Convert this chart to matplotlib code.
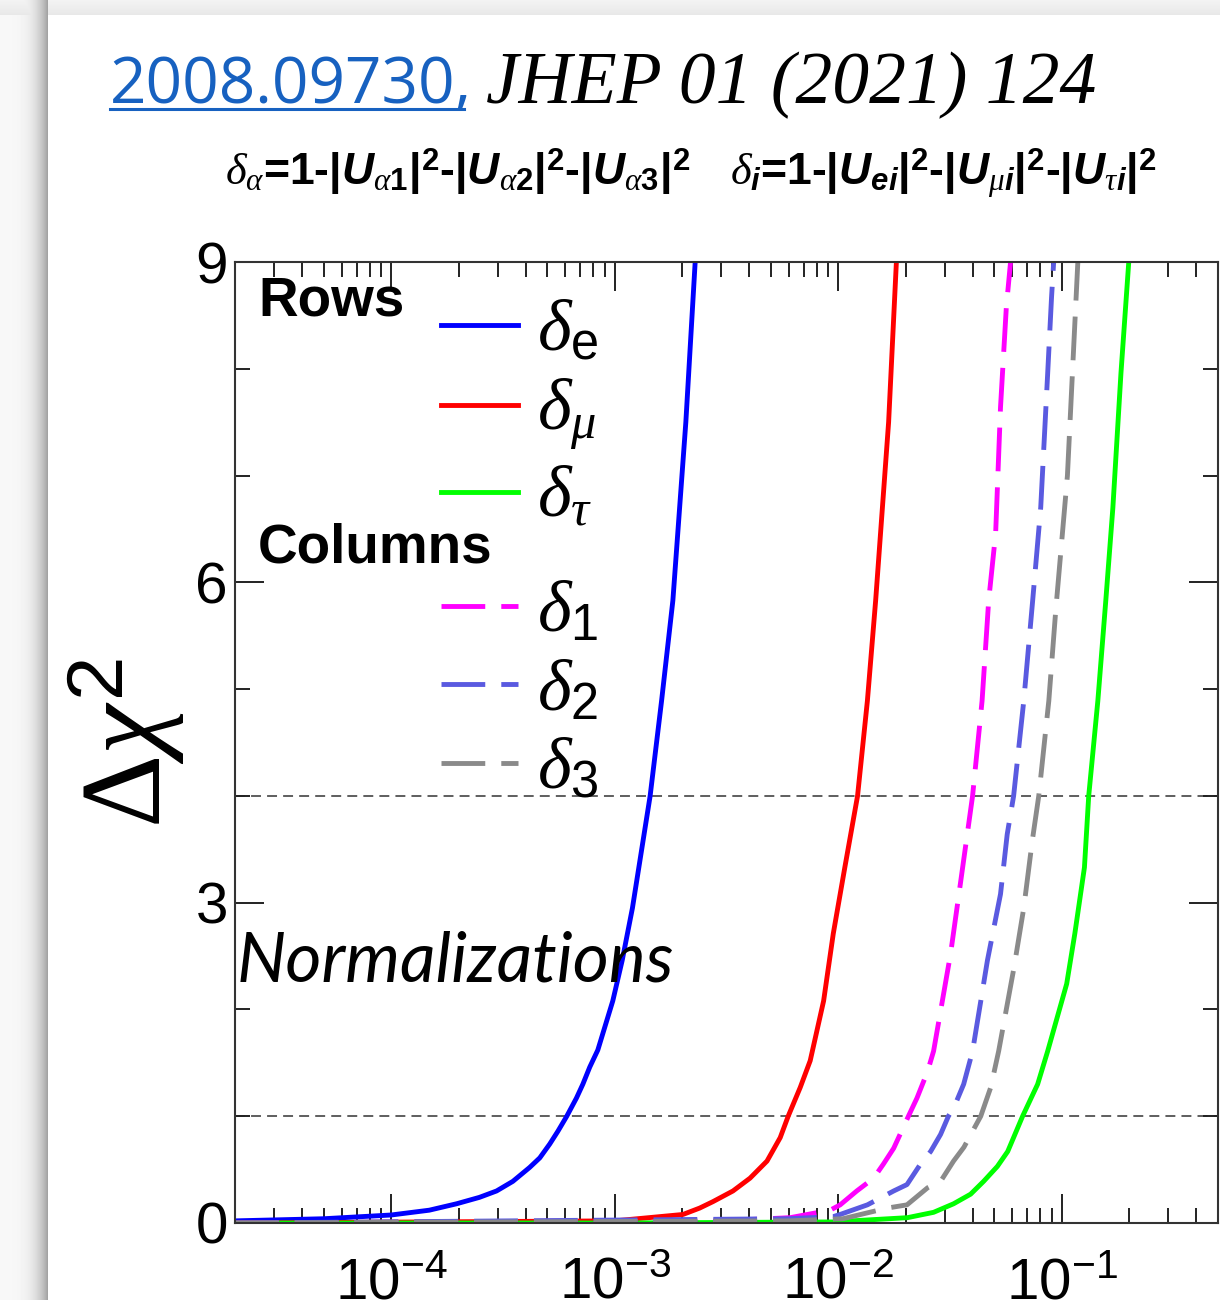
import numpy as np
import matplotlib.pyplot as plt
from matplotlib.ticker import LogLocator, NullFormatter
from matplotlib.lines import Line2D

plt.rcParams['font.family'] = ['Liberation Sans', 'DejaVu Sans']
plt.rcParams['mathtext.fontset'] = 'custom'
plt.rcParams['mathtext.rm'] = 'Liberation Sans'
plt.rcParams['mathtext.it'] = 'Liberation Serif:italic'
plt.rcParams['mathtext.bf'] = 'Liberation Sans:bold'
plt.rcParams['mathtext.sf'] = 'Liberation Sans:bold:italic'

# delta (x) and delta chi^2 (y)
# rows
de_x = [2.0e-5, 5.0e-5, 1.0e-4, 1.48e-4, 1.96e-4, 2.48e-4, 2.96e-4, 3.50e-4, 4.16e-4,
        4.62e-4, 5.12e-4, 5.57e-4, 6.1e-4, 6.74e-4, 7.2e-4, 7.73e-4, 8.4e-4, 9.8e-4,
        1.08e-3, 1.20e-3, 1.44e-3, 1.62e-3, 1.82e-3, 2.08e-3, 2.29e-3]
de_y = [0.02, 0.04, 0.075, 0.12, 0.18, 0.24, 0.30, 0.39, 0.52,
        0.61, 0.74, 0.86, 1.0, 1.17, 1.30, 1.46, 1.62, 2.08,
        2.46, 2.95, 4.0, 4.89, 5.83, 7.5, 9.0]

dmu_x = [2.0e-5, 1.0e-3, 2.02e-3, 2.40e-3, 2.75e-3, 3.38e-3, 4.03e-3, 4.8e-3, 5.50e-3,
         5.97e-3, 6.76e-3, 7.49e-3, 8.6e-3, 9.5e-3, 1.07e-2, 1.22e-2, 1.35e-2, 1.47e-2,
         1.68e-2, 1.82e-2]
dmu_y = [0.0, 0.02, 0.08, 0.14, 0.20, 0.30, 0.42, 0.58, 0.80,
         1.0, 1.27, 1.52, 2.08, 2.71, 3.33, 4.0, 4.89, 5.83,
         7.5, 9.0]

dtau_x = [2.0e-5, 1.0e-3, 9.5e-3, 2.04e-2, 2.67e-2, 3.28e-2, 3.91e-2, 4.47e-2, 5.15e-2,
          5.73e-2, 6.68e-2, 7.80e-2, 8.65e-2, 0.1052, 0.1144, 0.1263, 0.132, 0.145,
          0.1574, 0.1693, 0.184, 0.1994]
dtau_y = [0.0, 0.0, 0.01, 0.05, 0.10, 0.18, 0.27, 0.39, 0.53,
          0.67, 1.0, 1.30, 1.61, 2.24, 2.71, 3.33, 4.0, 4.89,
          5.83, 6.7, 7.96, 9.0]

# columns
d1_x = [2.0e-5, 3.0e-3, 6.1e-3, 9.2e-3, 1.02e-2, 1.21e-2, 1.44e-2, 1.59e-2, 1.77e-2,
        2.06e-2, 2.25e-2, 2.51e-2, 2.67e-2, 3.18e-2, 3.52e-2, 3.99e-2, 4.40e-2, 4.71e-2,
        5.06e-2, 5.32e-2, 5.65e-2, 5.90e-2]
d1_y = [0.0, 0.02, 0.05, 0.12, 0.17, 0.30, 0.42, 0.55, 0.70,
        1.0, 1.17, 1.42, 1.61, 2.52, 3.18, 4.0, 4.89, 5.83,
        6.46, 7.64, 8.58, 9.0]

d2_x = [2.0e-5, 6.0e-3, 9.5e-3, 1.02e-2, 1.35e-2, 1.77e-2, 2.03e-2, 2.33e-2, 2.59e-2,
        2.87e-2, 3.11e-2, 3.29e-2, 3.64e-2, 3.99e-2, 4.65e-2, 5.32e-2, 5.70e-2, 6.09e-2,
        6.76e-2, 7.41e-2, 8.05e-2, 8.65e-2, 9.0e-2, 9.2e-2]
d2_y = [0.0, 0.04, 0.06, 0.08, 0.17, 0.30, 0.36, 0.55, 0.67,
        0.83, 1.0, 1.08, 1.30, 1.61, 2.46, 3.08, 3.64, 4.0,
        4.89, 5.83, 6.7, 7.96, 8.67, 9.0]

d3_x = [2.0e-5, 6.0e-3, 1.05e-2, 1.26e-2, 1.66e-2, 2.03e-2, 2.51e-2, 2.87e-2, 3.28e-2,
        3.65e-2, 4.34e-2, 4.81e-2, 5.22e-2, 6.11e-2, 6.76e-2, 7.38e-2, 7.89e-2, 8.75e-2,
        9.4e-2, 0.106, 0.118]
d3_y = [0.0, 0.02, 0.04, 0.08, 0.14, 0.17, 0.33, 0.39, 0.58,
        0.71, 1.0, 1.27, 1.61, 2.39, 2.95, 3.58, 4.0, 4.89,
        5.74, 7.0, 9.0]

cl_levels = [1, 4]
xtick_vals = [1e-4, 1e-3, 1e-2, 1e-1]
xtick_labels = [r'$\mathregular{10^{-4}}$', r'$\mathregular{10^{-3}}$',
                r'$\mathregular{10^{-2}}$', r'$\mathregular{10^{-1}}$']
ytick_vals = [0, 3, 6, 9]

W, H = 1220, 1300
fig = plt.figure(figsize=(W / 100, H / 100), dpi=100)

# screenshot card shadow
bg = fig.add_axes([0, 0, 1, 1], zorder=-10)
bg.axis('off')
shade = np.ones((H, W))
cols = np.arange(48)
shade[:, :48] = 0.97 - 0.33 * (cols / 47.0) ** 4
rows = np.arange(15)
shade[:15, :] = np.minimum(shade[:15, :], (0.95 - 0.04 * rows / 14.0)[:, None])
bg.imshow(shade, cmap='gray', vmin=0, vmax=1, extent=[0, 1, 0, 1], aspect='auto')

ax = fig.add_axes([235 / W, 77 / H, 983 / W, 961 / H])
ax.set_facecolor('white')

lw = 3.5
dash = (9.0, 3.3)
ax.plot(de_x, de_y, color='#0000ff', lw=lw, label=r'$\delta_{\mathrm{e}}$')
ax.plot(dmu_x, dmu_y, color='#ff0000', lw=lw, label=r'$\delta_{\mu}$')
ax.plot(dtau_x, dtau_y, color='#00ff00', lw=lw, label=r'$\delta_{\tau}$')
ax.plot(d1_x, d1_y, color='#ff00ff', lw=lw, dashes=dash, label=r'$\delta_{\mathrm{1}}$')
ax.plot(d2_x, d2_y, color='#5a5ae0', lw=lw, dashes=dash, label=r'$\delta_{\mathrm{2}}$')
ax.plot(d3_x, d3_y, color='#8a8a8a', lw=lw, dashes=dash, label=r'$\delta_{\mathrm{3}}$')

for lev in cl_levels:
    ax.axhline(lev, color='#333333', lw=1.1, dashes=(6.5, 4), zorder=1)

ax.set_xscale('log')
ax.set_xlim(2e-5, 0.5)
ax.set_ylim(0, 9)
ax.set_xticks(xtick_vals)
ax.set_xticklabels(xtick_labels)
ax.xaxis.set_minor_locator(LogLocator(base=10, subs=np.arange(2, 10), numticks=30))
ax.xaxis.set_minor_formatter(NullFormatter())
ax.set_yticks(ytick_vals)
ax.set_yticks(range(10), minor=True)

ax.tick_params(which='both', direction='in', top=True, right=True,
               width=1.4, color='#222222')
ax.tick_params(which='major', length=21)
ax.tick_params(which='minor', length=10.5)
ax.tick_params(axis='y', labelsize=42, pad=5)
ax.tick_params(axis='x', labelsize=42, pad=24)
for sp in ax.spines.values():
    sp.set_color('#333333')
    sp.set_linewidth(1.5)

ax.set_ylabel(r'Δ$\chi^{2}$', family='Liberation Serif', fontsize=82, labelpad=6)

# legends
handles, labels = ax.get_legend_handles_labels()
leg_kw = dict(frameon=False, fontsize=52, handlelength=1.07, handletextpad=0.26,
              labelspacing=0.16, borderpad=0, borderaxespad=0, loc='upper left')
leg1 = ax.legend(handles[:3], labels[:3], bbox_to_anchor=(0.2096, 0.962), **leg_kw)
ax.add_artist(leg1)
ax.legend(handles[3:], labels[3:], bbox_to_anchor=(0.2096, 0.670), **leg_kw)

ax.text(0.0234, 0.944, 'Rows', transform=ax.transAxes, fontsize=39.5,
        fontweight='bold', va='baseline')
ax.text(0.0234, 0.687, 'Columns', transform=ax.transAxes, fontsize=39.5,
        fontweight='bold', va='baseline')
ax.text(0.002, 0.251, 'Normalizations', transform=ax.transAxes, fontsize=50,
        family='Lato', style='italic', va='baseline')

# header
sub1 = (r'$\delta_{\alpha}$=1-$\mathbf{|}\mathsf{U}_{\alpha\mathbf{1}}\mathbf{|}^{\mathbf{2}}$'
        r'-$\mathbf{|}\mathsf{U}_{\alpha\mathbf{2}}\mathbf{|}^{\mathbf{2}}$'
        r'-$\mathbf{|}\mathsf{U}_{\alpha\mathbf{3}}\mathbf{|}^{\mathbf{2}}$')
sub2 = (r'$\delta_{\mathsf{i}}$=1-$\mathbf{|}\mathsf{U}_{\mathsf{ei}}\mathbf{|}^{\mathbf{2}}$'
        r'-$\mathbf{|}\mathsf{U}_{\mu\mathsf{i}}\mathbf{|}^{\mathbf{2}}$'
        r'-$\mathbf{|}\mathsf{U}_{\tau\mathsf{i}}\mathbf{|}^{\mathbf{2}}$')
fig.text(225 / W, 1 - 185 / H, sub1, fontsize=32, fontweight='bold', va='baseline')
fig.text(730 / W, 1 - 185 / H, sub2, fontsize=32, fontweight='bold', va='baseline')

link = fig.text(110 / W, 1 - 103 / H, '2008.09730,', fontsize=46, family='Open Sans',
                color='#1761c0', va='baseline')
fig.canvas.draw()
bb = link.get_window_extent()
fig.text(bb.x1 / W + 14 / W, 1 - 103 / H, 'JHEP 01 (2021) 124', fontsize=53,
         family='Liberation Serif', style='italic', va='baseline')
fig.add_artist(Line2D([bb.x0 / W, (bb.x1 - 8) / W], [1 - 109 / H, 1 - 109 / H],
                      color='#1761c0', lw=2.2))

fig.savefig('out.png', dpi=100)
